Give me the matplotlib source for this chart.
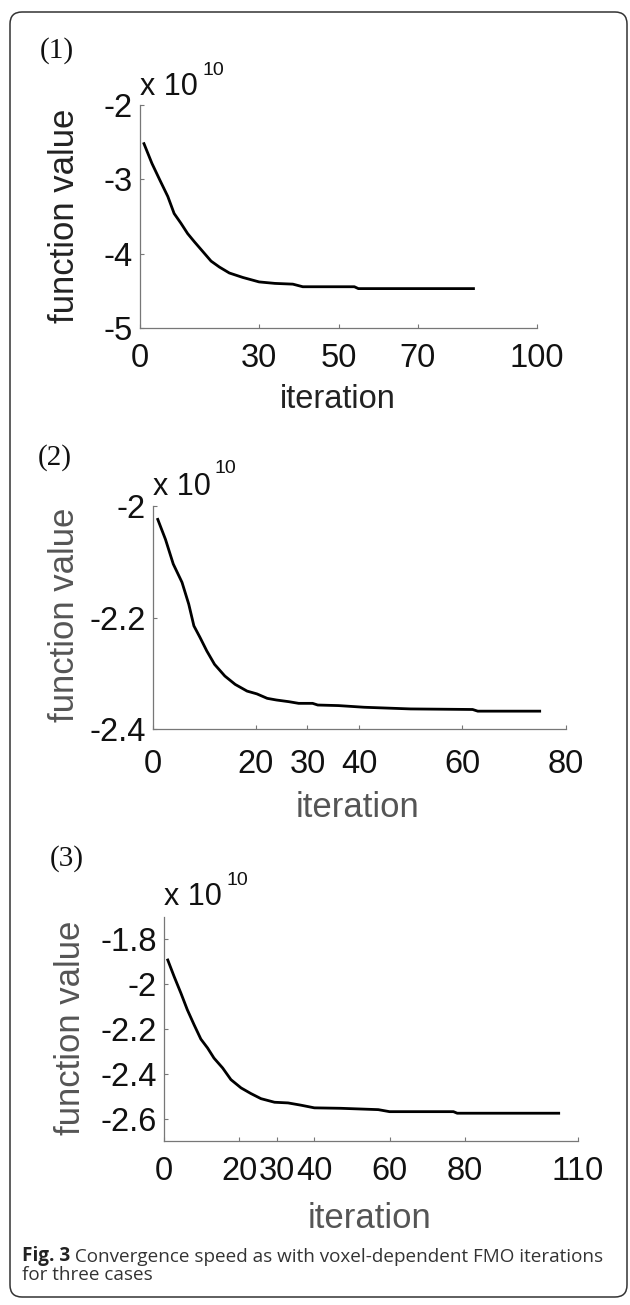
import matplotlib
matplotlib.use("Agg")
import matplotlib.pyplot as plt
from matplotlib.patches import FancyBboxPatch
from matplotlib.transforms import IdentityTransform

# valores (funcao objetivo em unidades de 1e10)
iter1 = [1, 3, 5, 7, 8.6, 10.3, 12, 13.7, 15.8, 17.9, 20, 22.5, 25.9, 30, 34,
         38.5, 41, 54, 55, 84]
val1 = [-2.52, -2.785, -3.01, -3.23, -3.46, -3.59, -3.73, -3.84, -3.97, -4.10,
        -4.18, -4.26, -4.32, -4.38, -4.40, -4.41, -4.445, -4.445, -4.47, -4.47]

iter2 = [1, 2.5, 4, 5.7, 7, 8, 9.2, 10.5, 12, 14, 16, 18.3, 20.2, 22.2, 24, 26.4,
         28.3, 31, 32, 36, 41, 50, 62, 63, 75]
val2 = [-2.024, -2.060, -2.104, -2.137, -2.176, -2.215, -2.236, -2.260, -2.284,
        -2.305, -2.320, -2.332, -2.337, -2.345, -2.348, -2.351, -2.354, -2.354,
        -2.357, -2.358, -2.361, -2.364, -2.365, -2.368, -2.368]

iter3 = [1, 2.7, 4.5, 6.2, 8, 9.8, 11.6, 13.3, 15.6, 17.8, 20.5, 23.1, 25.8, 29.4,
         33, 36.4, 40, 47, 57, 60, 77, 78, 105]
val3 = [-1.892, -1.966, -2.040, -2.114, -2.181, -2.245, -2.285, -2.330, -2.374,
        -2.426, -2.463, -2.488, -2.511, -2.527, -2.530, -2.540, -2.552, -2.554,
        -2.560, -2.569, -2.569, -2.576, -2.576]

xticks = [[0, 30, 50, 70, 100], [0, 20, 30, 40, 60, 80], [0, 20, 30, 40, 60, 80, 110]]
yticks = [[-2, -3, -4, -5], [-2, -2.2, -2.4], [-1.8, -2, -2.2, -2.4, -2.6]]
ytick_labels = [["-2", "-3", "-4", "-5"], ["-2", "-2.2", "-2.4"],
                ["-1.8", "-2", "-2.2", "-2.4", "-2.6"]]
xlims = [(0, 100), (0, 80), (0, 110)]
ylims = [(-5, -2), (-2.4, -2.0), (-2.7, -1.7)]
paineis = ["(1)", "(2)", "(3)"]

W, H = 630, 1305
fig = plt.figure(figsize=(W / 100, H / 100), dpi=100)
SANS = "Liberation Sans"


def fx(x):
    return x / W


def fy(y):
    return 1 - y / H


# posicoes (em pixels) de cada painel: esquerda, direita, topo, base
caixas = [(140, 537, 105, 328), (152.6, 565.5, 506, 729), (164, 577.5, 917, 1141)]
pads_x = [10.5, 14.5, 11]
cor_label = ["#222222", "#555555", "#555555"]
# ylabel (x da linha de base, centro y), xlabel (centro x, linha de base, tamanho)
ylab_pos = [(74, 216), (74, 615), (80, 1028)]
xlab_pos = [(338, 408, 23.5), (358, 817, 25), (370, 1228, 25)]
paren_pos = [(57, 51), (55, 458), (67, 859)]
expo_pos = [(140, 95, 202, 75), (153, 495, 215, 473), (164, 905, 226, 885)]

dados = [(iter1, val1), (iter2, val2), (iter3, val3)]

for i in range(3):
    l, r, t, b = caixas[i]
    ax = fig.add_axes([fx(l), fy(b), (r - l) / W, (b - t) / H])
    xs, ys = dados[i]
    ax.plot(xs, ys, color="black", lw=2.0)
    ax.set_xlim(*xlims[i])
    ax.set_ylim(*ylims[i])
    ax.set_xticks(xticks[i])
    ax.set_yticks(yticks[i])
    ax.set_yticklabels(ytick_labels[i])
    for lado in ["top", "right"]:
        ax.spines[lado].set_visible(False)
    for lado in ["left", "bottom"]:
        ax.spines[lado].set_color("#777777")
        ax.spines[lado].set_linewidth(0.9)
    ax.tick_params(direction="in", length=3, width=0.8, color="#777777",
                   labelsize=23.5, labelcolor="#111111")
    ax.tick_params(axis="x", pad=pads_x[i])
    ax.tick_params(axis="y", pad=5)
    for lab in ax.get_xticklabels() + ax.get_yticklabels():
        lab.set_fontfamily(SANS)

    fig.text(fx(ylab_pos[i][0]), fy(ylab_pos[i][1]), "function value", rotation=90,
             rotation_mode="anchor", ha="center", va="baseline", fontsize=25,
             family=SANS, color=cor_label[i])
    fig.text(fx(xlab_pos[i][0]), fy(xlab_pos[i][1]), "iteration", ha="center",
             va="baseline", fontsize=xlab_pos[i][2], family=SANS, color=cor_label[i])
    fig.text(fx(paren_pos[i][0]), fy(paren_pos[i][1]), paineis[i], ha="center",
             va="center", fontsize=21, family="Liberation Serif", color="#111111")
    ex, ey, sx, sy = expo_pos[i]
    fig.text(fx(ex), fy(ey), "x 10", ha="left", va="baseline", fontsize=22,
             family=SANS, color="#111111")
    fig.text(fx(sx), fy(sy), "10", ha="left", va="baseline", fontsize=14,
             family=SANS, color="#111111")

# legenda da figura
t1 = fig.text(fx(22), fy(1261), "Fig. 3", ha="left", va="baseline", fontsize=13.6,
              family="Open Sans", weight="bold", color="#222222")
plt.annotate(" Convergence speed as with voxel-dependent FMO iterations",
             xy=(1, 0), xycoords=t1, ha="left", va="bottom", fontsize=13.6,
             family="Open Sans", color="#333333", annotation_clip=False)
fig.text(fx(22), fy(1280), "for three cases", ha="left", va="baseline", fontsize=13.6,
         family="Open Sans", color="#333333")

# moldura arredondada
borda = FancyBboxPatch((10, 8), 617, 1285, boxstyle="round,pad=0,rounding_size=12",
                       transform=IdentityTransform(), fill=False,
                       edgecolor="#333333", lw=1.1)
fig.patches.append(borda)

fig.savefig("out.png", dpi=100)
